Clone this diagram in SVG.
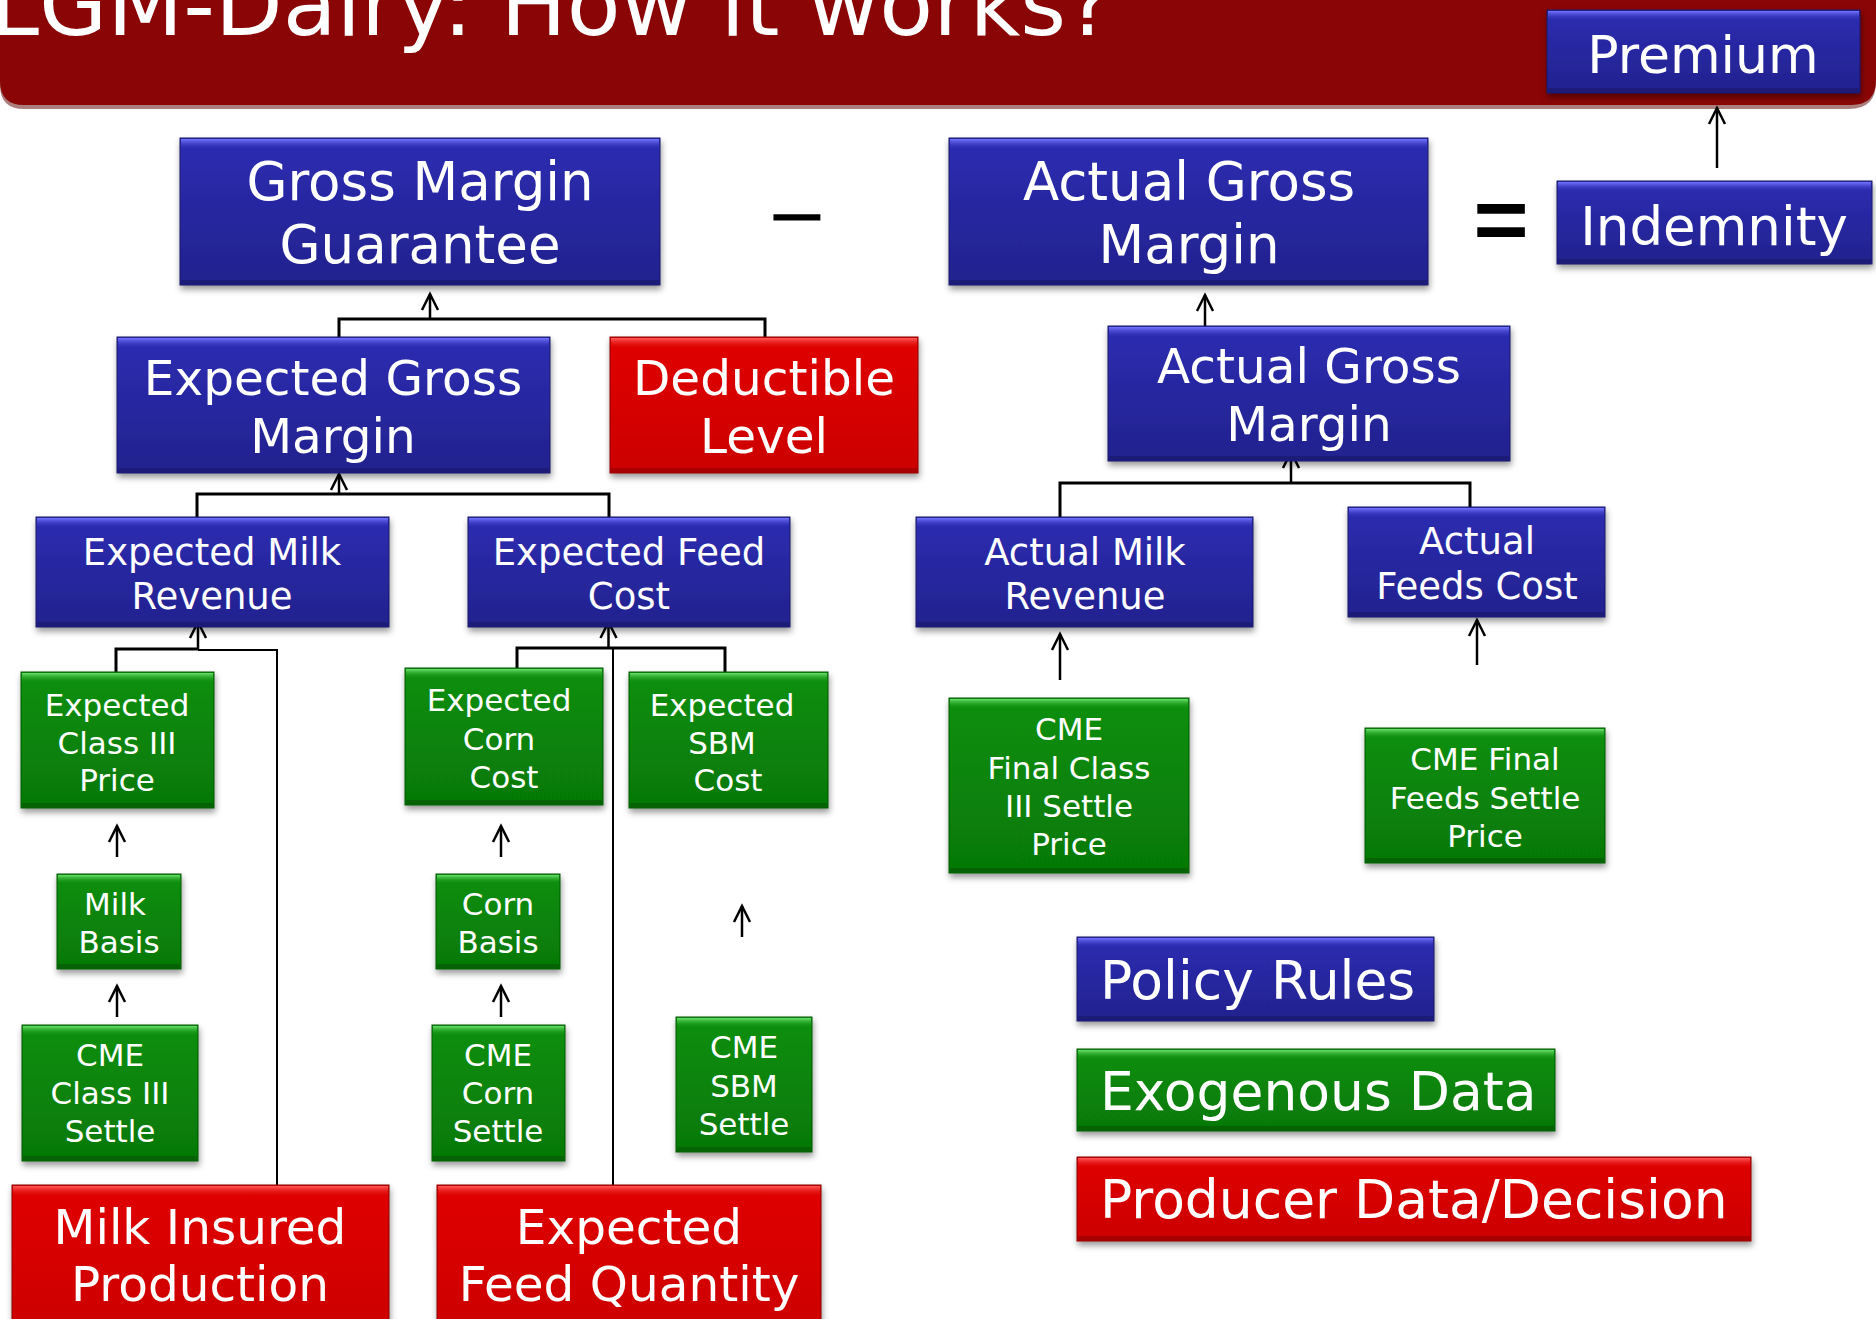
<svg xmlns="http://www.w3.org/2000/svg" width="1876" height="1319" viewBox="0 0 1876 1319">
<style>
text{font-family:"DejaVu Sans","Verdana","Liberation Sans",sans-serif;fill:#fff;text-anchor:middle}
.t53{font-size:53px}.t48{font-size:48.5px}.t37{font-size:37px}.t31{font-size:31px}.t52{font-size:53.5px}
.lg{text-anchor:start}
.op{fill:#000}
.b{filter:url(#sh);stroke-width:1}
.bb{fill:url(#gB);stroke:#1a1a66}.tb{fill:url(#tB)}.db{fill:#1c1c78}
.bg{fill:url(#gG);stroke:#055a05}.tg{fill:url(#tG)}.dg{fill:#056205}
.br{fill:url(#gR);stroke:#8a0000}.tr{fill:url(#tR)}.dr{fill:#a80000}
.c{fill:none;stroke:#000;stroke-width:3}
.cl{fill:none;stroke:#000;stroke-width:2}
.ar{fill:none;stroke:#000;stroke-width:2.5;marker-end:url(#ah)}
</style>
<defs>
<filter id="sh" x="-10%" y="-10%" width="120%" height="130%"><feDropShadow dx="1" dy="4" stdDeviation="3" flood-color="#000" flood-opacity="0.4"/></filter>
<linearGradient id="gB" x1="0" y1="0" x2="0" y2="1"><stop offset="0" stop-color="#2c2cb2"/><stop offset="1" stop-color="#22228e"/></linearGradient>
<linearGradient id="tB" x1="0" y1="0" x2="0" y2="1"><stop offset="0" stop-color="#7474ff"/><stop offset="1" stop-color="#2c2cb2" stop-opacity="0"/></linearGradient>
<linearGradient id="gG" x1="0" y1="0" x2="0" y2="1"><stop offset="0" stop-color="#0a8f0a"/><stop offset="1" stop-color="#067806"/></linearGradient>
<linearGradient id="tG" x1="0" y1="0" x2="0" y2="1"><stop offset="0" stop-color="#6ae06a"/><stop offset="1" stop-color="#0a8f0a" stop-opacity="0"/></linearGradient>
<linearGradient id="gR" x1="0" y1="0" x2="0" y2="1"><stop offset="0" stop-color="#e00606"/><stop offset="1" stop-color="#cc0000"/></linearGradient>
<linearGradient id="tR" x1="0" y1="0" x2="0" y2="1"><stop offset="0" stop-color="#ff5a5a"/><stop offset="1" stop-color="#e00606" stop-opacity="0"/></linearGradient>
<marker id="ah" markerUnits="userSpaceOnUse" markerWidth="24" markerHeight="24" viewBox="-20 -12 24 24" refX="0" refY="0" orient="auto">
<path d="M-16,-8 L0,0 L-16,8" fill="none" stroke="#000" stroke-width="2.5"/>
</marker>
</defs>
<rect width="1876" height="1319" fill="#fff"/>
<g id="banner">
<path d="M0,0 H1876 V80 Q1876,107 1849,107 H24 Q0,107 0,83 Z" fill="#5a0000" opacity="0.5" transform="translate(0,2)"/>
<path d="M0,0 H1876 V80 Q1876,105 1851,105 H24 Q0,105 0,81 Z" fill="#8a0505"/>
<text x="-10" y="35" style="font-size:88px;text-anchor:start">LGM-Dairy: How it works?</text>
</g>
<g id="connectors">
<line class="ar" x1="1717" y1="168" x2="1717" y2="108"/>
<path class="c" d="M339,347 V319 H765 V337"/>
<line class="ar" x1="430" y1="319" x2="430" y2="294"/>
<path class="c" d="M197,517 V494 H609 V517"/>
<line class="ar" x1="339" y1="494" x2="339" y2="474"/>
<line class="ar" x1="1205" y1="326" x2="1205" y2="295"/>
<path class="c" d="M1060,517 V483 H1470 V507"/>
<line class="ar" x1="1291" y1="483" x2="1291" y2="452"/>
<line class="ar" x1="1060" y1="680" x2="1060" y2="634"/>
<line class="ar" x1="1477" y1="665" x2="1477" y2="620"/>
<path class="c" d="M116,672 V649 H198"/>
<path class="cl" d="M198,650 H277 V1185"/>
<line class="ar" x1="198" y1="649" x2="198" y2="622"/>
<path class="c" d="M517,668 V648 H725 V672"/>
<path class="cl" d="M613,648 V1185"/>
<line class="ar" x1="608.5" y1="648" x2="608.5" y2="622"/>
<line class="ar" x1="117" y1="857" x2="117" y2="826"/>
<line class="ar" x1="117" y1="1017" x2="117" y2="986"/>
<line class="ar" x1="501" y1="857" x2="501" y2="826"/>
<line class="ar" x1="501" y1="1017" x2="501" y2="986"/>
<line class="ar" x1="742" y1="937" x2="742" y2="906"/>
</g>
<g id="premium"><rect class="b bb" x="1547" y="10" width="313" height="83"/><rect class="tb" x="1548" y="11" width="311" height="10"/><rect class="db" x="1548" y="88" width="311" height="5"/><text class="t53" x="1703" y="73" style="font-size:52px">Premium</text></g>
<g id="gmg"><rect class="b bb" x="180" y="138" width="480" height="147"/><rect class="tb" x="181" y="139" width="478" height="11"/><rect class="db" x="181" y="280" width="478" height="5"/><text class="t53" x="420" y="200">Gross Margin</text><text class="t53" x="420" y="263">Guarantee</text></g>
<g id="minus"><text class="op" x="797" y="241" style="font-size:75px">−</text></g>
<g id="agm"><rect class="b bb" x="949" y="138" width="479" height="147"/><rect class="tb" x="950" y="139" width="477" height="11"/><rect class="db" x="950" y="280" width="477" height="5"/><text class="t53" x="1189" y="200">Actual Gross</text><text class="t53" x="1189" y="263">Margin</text></g>
<g id="equals"><text class="op" x="1501" y="248" style="font-size:76px" transform="translate(0,217) scale(1,1.55) translate(0,-222)">=</text></g>
<g id="indemnity"><rect class="b bb" x="1557" y="181" width="315" height="83"/><rect class="tb" x="1558" y="182" width="313" height="10"/><rect class="db" x="1558" y="259" width="313" height="5"/><text class="t53" x="1714" y="245">Indemnity</text></g>
<g id="egm"><rect class="b bb" x="117" y="337" width="433" height="136"/><rect class="tb" x="118" y="338" width="431" height="11"/><rect class="db" x="118" y="468" width="431" height="5"/><text class="t48" x="333" y="395">Expected Gross</text><text class="t48" x="333" y="453">Margin</text></g>
<g id="deductible"><rect class="b br" x="610" y="337" width="308" height="136"/><rect class="tr" x="611" y="338" width="306" height="11"/><rect class="dr" x="611" y="468" width="306" height="5"/><text class="t48" x="764" y="395">Deductible</text><text class="t48" x="764" y="453">Level</text></g>
<g id="agm2"><rect class="b bb" x="1108" y="326" width="402" height="135"/><rect class="tb" x="1109" y="327" width="400" height="11"/><rect class="db" x="1109" y="456" width="400" height="5"/><text class="t48" x="1309" y="383">Actual Gross</text><text class="t48" x="1309" y="441">Margin</text></g>
<g id="emr"><rect class="b bb" x="36" y="517" width="353" height="110"/><rect class="tb" x="37" y="518" width="351" height="10"/><rect class="db" x="37" y="622" width="351" height="5"/><text class="t37" x="212" y="565">Expected Milk</text><text class="t37" x="212" y="609">Revenue</text></g>
<g id="efc"><rect class="b bb" x="468" y="517" width="322" height="110"/><rect class="tb" x="469" y="518" width="320" height="10"/><rect class="db" x="469" y="622" width="320" height="5"/><text class="t37" x="629" y="565">Expected Feed</text><text class="t37" x="629" y="609">Cost</text></g>
<g id="amr"><rect class="b bb" x="916" y="517" width="337" height="110"/><rect class="tb" x="917" y="518" width="335" height="10"/><rect class="db" x="917" y="622" width="335" height="5"/><text class="t37" x="1085" y="565">Actual Milk</text><text class="t37" x="1085" y="609">Revenue</text></g>
<g id="afc"><rect class="b bb" x="1348" y="507" width="257" height="110"/><rect class="tb" x="1349" y="508" width="255" height="10"/><rect class="db" x="1349" y="612" width="255" height="5"/><text class="t37" x="1477" y="554">Actual</text><text class="t37" x="1477" y="599">Feeds Cost</text></g>
<g id="ec3p"><rect class="b bg" x="21" y="672" width="193" height="136"/><rect class="tg" x="22" y="673" width="191" height="10"/><rect class="dg" x="22" y="803" width="191" height="5"/><text class="t31" x="117" y="716">Expected</text><text class="t31" x="117" y="754">Class III</text><text class="t31" x="117" y="791">Price</text></g>
<g id="ecc"><rect class="b bg" x="405" y="668" width="198" height="137"/><rect class="tg" x="406" y="669" width="196" height="10"/><rect class="dg" x="406" y="800" width="196" height="5"/><text class="t31" x="499" y="711">Expected</text><text class="t31" x="499" y="750">Corn</text><text class="t31" x="504" y="788">Cost</text></g>
<g id="esbm"><rect class="b bg" x="629" y="672" width="199" height="136"/><rect class="tg" x="630" y="673" width="197" height="10"/><rect class="dg" x="630" y="803" width="197" height="5"/><text class="t31" x="722" y="716">Expected</text><text class="t31" x="722" y="754">SBM</text><text class="t31" x="728" y="791">Cost</text></g>
<g id="mb"><rect class="b bg" x="57" y="874" width="124" height="95"/><rect class="tg" x="58" y="875" width="122" height="9"/><rect class="dg" x="58" y="964" width="122" height="5"/><text class="t31" x="115" y="915">Milk</text><text class="t31" x="119" y="953">Basis</text></g>
<g id="cb"><rect class="b bg" x="436" y="874" width="124" height="95"/><rect class="tg" x="437" y="875" width="122" height="9"/><rect class="dg" x="437" y="964" width="122" height="5"/><text class="t31" x="498" y="915">Corn</text><text class="t31" x="498" y="953">Basis</text></g>
<g id="cme3"><rect class="b bg" x="22" y="1025" width="176" height="136"/><rect class="tg" x="23" y="1026" width="174" height="10"/><rect class="dg" x="23" y="1156" width="174" height="5"/><text class="t31" x="110" y="1066">CME</text><text class="t31" x="110" y="1104">Class III</text><text class="t31" x="110" y="1142">Settle</text></g>
<g id="cmec"><rect class="b bg" x="432" y="1025" width="133" height="136"/><rect class="tg" x="433" y="1026" width="131" height="10"/><rect class="dg" x="433" y="1156" width="131" height="5"/><text class="t31" x="498" y="1066">CME</text><text class="t31" x="498" y="1104">Corn</text><text class="t31" x="498" y="1142">Settle</text></g>
<g id="cmesbm"><rect class="b bg" x="676" y="1017" width="136" height="135"/><rect class="tg" x="677" y="1018" width="134" height="10"/><rect class="dg" x="677" y="1147" width="134" height="5"/><text class="t31" x="744" y="1058">CME</text><text class="t31" x="744" y="1097">SBM</text><text class="t31" x="744" y="1135">Settle</text></g>
<g id="cmef3"><rect class="b bg" x="949" y="698" width="240" height="175"/><rect class="tg" x="950" y="699" width="238" height="10"/><rect class="dg" x="950" y="868" width="238" height="5"/><text class="t31" x="1069" y="740">CME</text><text class="t31" x="1069" y="779">Final Class</text><text class="t31" x="1069" y="817">III Settle</text><text class="t31" x="1069" y="855">Price</text></g>
<g id="cmeff"><rect class="b bg" x="1365" y="728" width="240" height="135"/><rect class="tg" x="1366" y="729" width="238" height="10"/><rect class="dg" x="1366" y="858" width="238" height="5"/><text class="t31" x="1485" y="770">CME Final</text><text class="t31" x="1485" y="809">Feeds Settle</text><text class="t31" x="1485" y="847">Price</text></g>
<g id="mip"><rect class="b br" x="12" y="1185" width="377" height="150"/><rect class="tr" x="13" y="1186" width="375" height="11"/><text class="t48" x="200" y="1244">Milk Insured</text><text class="t48" x="200" y="1301">Production</text></g>
<g id="efq"><rect class="b br" x="437" y="1185" width="384" height="150"/><rect class="tr" x="438" y="1186" width="382" height="11"/><text class="t48" x="629" y="1244">Expected</text><text class="t48" x="629" y="1301">Feed Quantity</text></g>
<g id="legend-policy"><rect class="b bb" x="1077" y="937" width="357" height="84"/><rect class="tb" x="1078" y="938" width="355" height="10"/><rect class="db" x="1078" y="1016" width="355" height="5"/><text class="t52 lg" x="1100" y="999">Policy Rules</text></g>
<g id="legend-exo"><rect class="b bg" x="1077" y="1049" width="478" height="82"/><rect class="tg" x="1078" y="1050" width="476" height="10"/><rect class="dg" x="1078" y="1126" width="476" height="5"/><text class="t52 lg" x="1100" y="1110">Exogenous Data</text></g>
<g id="legend-prod"><rect class="b br" x="1077" y="1157" width="674" height="84"/><rect class="tr" x="1078" y="1158" width="672" height="10"/><rect class="dr" x="1078" y="1236" width="672" height="5"/><text class="t52 lg" x="1100" y="1218">Producer Data/Decision</text></g>
</svg>
